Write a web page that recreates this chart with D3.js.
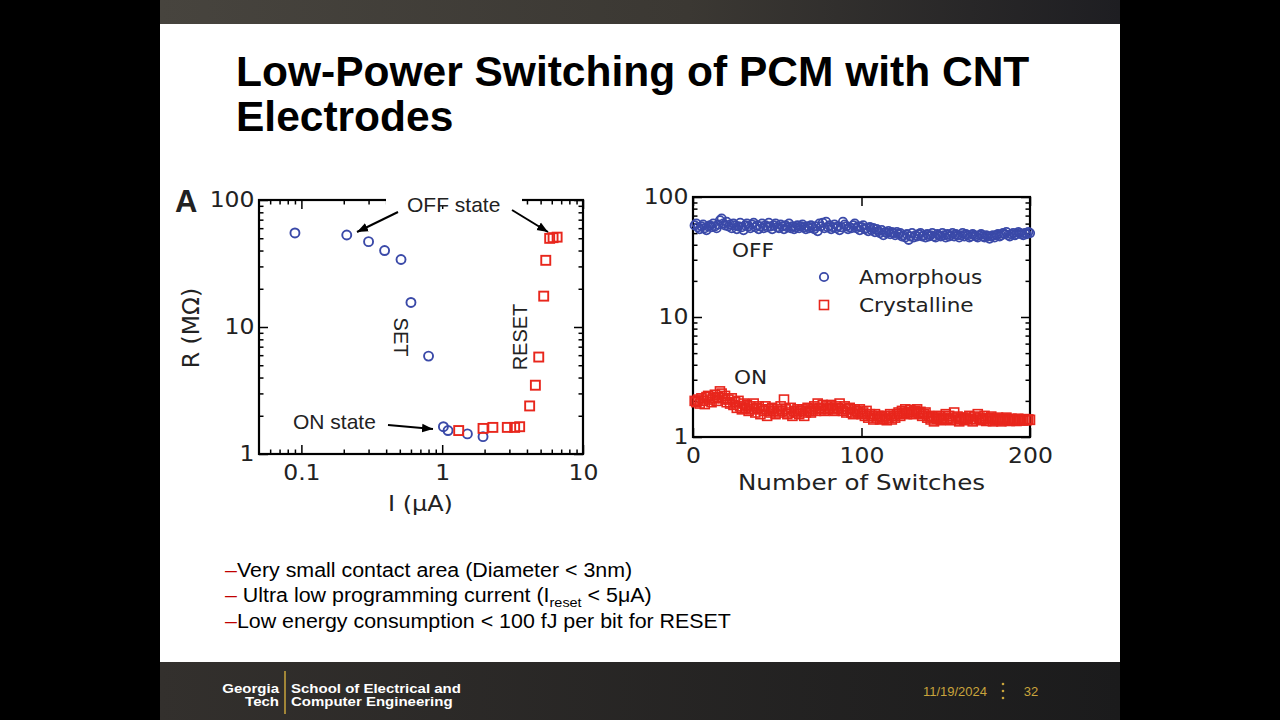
<!DOCTYPE html>
<html>
<head>
<meta charset="utf-8">
<script src="https://cdn.jsdelivr.net/npm/d3@7"></script>
<style>
  body { margin: 0; background: #000; }
</style>
</head>
<body>
<script>
// ---- left panel: R vs I (SET / RESET sweeps) ----
var setCurrent   = [0.09, 0.21, 0.30, 0.39, 0.51, 0.60, 0.80, 1.02, 1.10, 1.51, 1.95];
var setResist    = [55, 53, 47, 40, 34, 15.6, 5.9, 1.64, 1.53, 1.44, 1.37];
var resetCurrent = [1.31, 1.95, 2.29, 2.90, 3.27, 3.55, 4.18, 4.59, 4.85, 5.26, 5.44, 5.80, 6.13, 6.55];
var resetResist  = [1.53, 1.59, 1.62, 1.62, 1.62, 1.64, 2.39, 3.48, 5.8, 17.5, 33.5, 49.9, 50.5, 51];
var currentTicks = [0.1, 1, 10];
var currentMinor = [0.06, 0.07, 0.08, 0.09, 0.2, 0.3, 0.4, 0.5, 0.6, 0.7, 0.8, 0.9, 2, 3, 4, 5, 6, 7, 8, 9];
var resistTicks  = [1, 10, 100];
var resistMinor  = [2, 3, 4, 5, 6, 7, 8, 9, 20, 30, 40, 50, 60, 70, 80, 90];

// ---- right panel: endurance (OFF / ON resistance per switch) ----
var offResist = [
  58, 60, 56, 54, 57, 59, 55, 53, 57, 58, 56, 60, 57, 55, 59, 64, 66, 60, 58, 62,
  57, 59, 55, 60, 58, 54, 57, 61, 56, 53, 58, 60, 57, 55, 59, 61, 56, 58, 54, 57,
  60, 55, 58, 56, 61, 57, 54, 58, 60, 56, 55, 59, 57, 54, 58, 56, 60, 55, 57, 54,
  56, 58, 55, 57, 59, 56, 54, 57, 55, 58, 56, 54, 57, 52, 60, 57, 61, 55, 62, 56,
  58, 54, 56, 59, 55, 57, 53, 56, 62, 59, 57, 54, 56, 55, 58, 60, 55, 57, 53, 56,
  58, 54, 55, 52, 56, 53, 55, 51, 54, 52, 50, 53, 48, 51, 50, 52, 49, 51, 50, 48,
  51, 49, 50, 47, 48, 46, 49, 44, 47, 50, 46, 48, 47, 49, 50, 47, 48, 46, 49, 47,
  48, 50, 47, 46, 49, 48, 47, 50, 48, 46, 49, 47, 48, 50, 47, 49, 48, 46, 48, 50,
  47, 49, 48, 46, 47, 49, 48, 47, 46, 48, 49, 47, 46, 48, 47, 45, 47, 48, 46, 48,
  49, 47, 48, 50, 49, 51, 48, 47, 49, 50, 48, 49, 51, 50, 49, 48, 50, 49, 51, 50
];
var onResist = [
  2.0, 1.95, 2.05, 1.9, 2.1, 2.0, 1.88, 2.15, 2.2, 2.05, 1.95, 2.1, 2.25, 2.0, 2.15, 2.4, 2.3, 2.1, 2.2, 1.95,
  2.05, 1.9, 2.1, 1.85, 1.95, 1.75, 2.0, 1.8, 1.7, 1.9, 1.75, 1.85, 1.65, 1.8, 1.7, 1.9, 1.6, 1.75, 1.8, 1.55,
  1.7, 1.65, 1.8, 1.5, 1.7, 1.6, 1.75, 1.65, 1.55, 1.7, 1.6, 1.8, 1.65, 2.05, 1.7, 1.55, 1.6, 1.75, 1.5, 1.65,
  1.6, 1.7, 1.55, 1.65, 1.7, 1.5, 1.6, 1.75, 1.65, 1.6, 1.7, 1.8, 1.65, 1.9, 1.75, 1.7, 1.85, 1.65, 1.8, 1.7,
  1.75, 1.85, 1.7, 1.65, 1.8, 1.75, 1.9, 1.7, 1.65, 1.8, 1.6, 1.7, 1.75, 1.6, 1.55, 1.7, 1.65, 1.6, 1.7, 1.55,
  1.6, 1.5, 1.65, 1.45, 1.55, 1.5, 1.4, 1.55, 1.45, 1.5, 1.4, 1.48, 1.42, 1.5, 1.38, 1.45, 1.55, 1.4, 1.5, 1.45,
  1.55, 1.6, 1.5, 1.65, 1.58, 1.7, 1.55, 1.62, 1.68, 1.6, 1.55, 1.65, 1.7, 1.58, 1.62, 1.5, 1.55, 1.6, 1.45, 1.5,
  1.4, 1.48, 1.35, 1.45, 1.42, 1.5, 1.38, 1.45, 1.4, 1.55, 1.42, 1.5, 1.38, 1.45, 1.6, 1.4, 1.48, 1.35, 1.42, 1.45,
  1.38, 1.45, 1.4, 1.5, 1.42, 1.35, 1.48, 1.4, 1.55, 1.45, 1.38, 1.42, 1.5, 1.36, 1.44, 1.4, 1.48, 1.35, 1.42, 1.38,
  1.45, 1.4, 1.35, 1.42, 1.38, 1.45, 1.4, 1.36, 1.42, 1.38, 1.4, 1.36, 1.42, 1.38, 1.4, 1.37, 1.41, 1.38, 1.4, 1.39
];
var switchTicks = [0, 100, 200];
var legendNames = ["Amorphous", "Crystalline"];

var bullets = [
  ["Very small contact area (Diameter < 3nm)"],
  [" Ultra low programming current (I", "reset", " < 5μA)"],
  ["Low energy consumption < 100 fJ per bit for RESET"]
];

var blue = "#3a49a8", red = "#e8261c", ink = "#222";
var tickFont = "DejaVu Sans, Verdana, sans-serif";
var textFont = "Liberation Sans, Arial, sans-serif";

var svg = d3.select("body").append("svg")
    .attr("width", 1280)
    .attr("height", 720);

var defs = svg.append("defs");

// slide background pieces
var topGrad = defs.append("linearGradient").attr("id", "topGrad");
topGrad.append("stop").attr("offset", "0%").attr("stop-color", "#47443e");
topGrad.append("stop").attr("offset", "55%").attr("stop-color", "#3b3833");
topGrad.append("stop").attr("offset", "100%").attr("stop-color", "#1e1e22");

var footGrad = defs.append("linearGradient").attr("id", "footGrad");
footGrad.append("stop").attr("offset", "0%").attr("stop-color", "#33302d");
footGrad.append("stop").attr("offset", "100%").attr("stop-color", "#1b1b1c");

defs.append("marker")
    .attr("id", "arrow")
    .attr("viewBox", "0 0 10 10")
    .attr("refX", 10).attr("refY", 5)
    .attr("markerWidth", 11).attr("markerHeight", 11)
    .attr("markerUnits", "userSpaceOnUse")
    .attr("orient", "auto")
    .append("path")
    .attr("d", "M0,1 L10,5 L0,9 Z")
    .attr("fill", "#000");

svg.append("rect").attr("x", 160).attr("y", 0).attr("width", 960).attr("height", 24).attr("fill", "url(#topGrad)");
svg.append("rect").attr("x", 160).attr("y", 24).attr("width", 960).attr("height", 638).attr("fill", "#fff");
svg.append("rect").attr("x", 160).attr("y", 662).attr("width", 960).attr("height", 58).attr("fill", "url(#footGrad)");

// text placed at (x, y) and stretched sideways a bit, like the slide's artwork
function label(g, x, y, str, size, sx, family) {
    return g.append("text")
        .attr("transform", "translate(" + x + "," + y + ") scale(" + sx + ",1)")
        .attr("font-family", family || tickFont)
        .attr("font-size", size)
        .attr("fill", ink)
        .text(str);
}

// title
var title = svg.append("text")
    .attr("font-family", textFont)
    .attr("font-weight", "bold")
    .attr("font-size", 42.5)
    .attr("fill", "#000");
title.append("tspan").attr("x", 236).attr("y", 86).text("Low-Power Switching of PCM with CNT");
title.append("tspan").attr("x", 236).attr("y", 131).text("Electrodes");

// ---------- boxed frame with inward ticks on all four sides ----------
function drawFrame(g, x, y, xMajor, xMinor, yMajor, yMinor) {
    var x0 = x.range()[0], x1 = x.range()[1];
    var y0 = y.range()[0], y1 = y.range()[1];
    var fmt = d3.format("~g");

    var axes = [
        g.append("g").attr("transform", "translate(0," + y0 + ")")
            .call(d3.axisBottom(x).tickValues(xMajor).tickSize(-9).tickPadding(11).tickFormat(fmt)),
        g.append("g").attr("transform", "translate(0," + y1 + ")")
            .call(d3.axisTop(x).tickValues(xMajor).tickSize(-9).tickFormat("")),
        g.append("g").attr("transform", "translate(" + x0 + ",0)")
            .call(d3.axisLeft(y).tickValues(yMajor).tickSize(-9).tickPadding(4).tickFormat(fmt)),
        g.append("g").attr("transform", "translate(" + x1 + ",0)")
            .call(d3.axisRight(y).tickValues(yMajor).tickSize(-9).tickFormat(""))
    ];
    if (xMinor.length) {
        axes.push(g.append("g").attr("transform", "translate(0," + y0 + ")")
            .call(d3.axisBottom(x).tickValues(xMinor).tickSize(-4.5).tickFormat("")));
        axes.push(g.append("g").attr("transform", "translate(0," + y1 + ")")
            .call(d3.axisTop(x).tickValues(xMinor).tickSize(-4.5).tickFormat("")));
    }
    axes.push(g.append("g").attr("transform", "translate(" + x0 + ",0)")
        .call(d3.axisLeft(y).tickValues(yMinor).tickSize(-4.5).tickFormat("")));
    axes.push(g.append("g").attr("transform", "translate(" + x1 + ",0)")
        .call(d3.axisRight(y).tickValues(yMinor).tickSize(-4.5).tickFormat("")));

    axes.forEach(function(a) {
        a.select(".domain").remove();
        a.attr("font-family", tickFont).attr("font-size", 21);
        a.selectAll("line").attr("stroke", "#000").attr("stroke-width", 1.5);
        a.selectAll("text").attr("fill", ink).attr("transform", "scale(1.12,1)");
    });

    g.append("rect")
        .attr("x", x0).attr("y", y1)
        .attr("width", x1 - x0).attr("height", y0 - y1)
        .attr("fill", "none")
        .attr("stroke", "#000")
        .attr("stroke-width", 2.2);
}

// ================= LEFT PANEL =================
var xL = d3.scaleLog().domain([0.05, 10]).range([259, 583]);
var yL = d3.scaleLog().domain([1, 100]).range([454, 200]);
var left = svg.append("g");

drawFrame(left, xL, yL, currentTicks, currentMinor, resistTicks, resistMinor);

// gap in the top frame behind "OFF state"
left.append("rect").attr("x", 386).attr("y", 195).attr("width", 136).attr("height", 10).attr("fill", "#fff");

left.selectAll(".setPt")
    .data(setCurrent)
    .enter().append("circle")
    .attr("class", "setPt")
    .attr("cx", function(d) { return xL(d); })
    .attr("cy", function(d, i) { return yL(setResist[i]); })
    .attr("r", 4.5)
    .attr("fill", "none")
    .attr("stroke", blue)
    .attr("stroke-width", 1.9);

left.selectAll(".resetPt")
    .data(resetCurrent)
    .enter().append("rect")
    .attr("class", "resetPt")
    .attr("x", function(d) { return xL(d) - 4.5; })
    .attr("y", function(d, i) { return yL(resetResist[i]) - 4.5; })
    .attr("width", 9)
    .attr("height", 9)
    .attr("fill", "none")
    .attr("stroke", red)
    .attr("stroke-width", 1.9);

// annotations
label(left, 407, 212, "OFF state", 20, 1.05, textFont);
label(left, 293, 429, "ON state", 20, 1.05, textFont);
left.append("text").attr("transform", "translate(394,337) rotate(90)").attr("text-anchor", "middle")
    .attr("font-family", textFont).attr("font-size", 20).attr("fill", ink).text("SET");
left.append("text").attr("transform", "translate(527,337) rotate(-90)").attr("text-anchor", "middle")
    .attr("font-family", textFont).attr("font-size", 20).attr("fill", ink).text("RESET");

var arrows = [[398, 212, 357, 232], [512, 210, 548, 232], [388, 425, 433, 429]];
left.selectAll(".arrow")
    .data(arrows)
    .enter().append("line")
    .attr("x1", function(d) { return d[0]; })
    .attr("y1", function(d) { return d[1]; })
    .attr("x2", function(d) { return d[2]; })
    .attr("y2", function(d) { return d[3]; })
    .attr("stroke", "#000")
    .attr("stroke-width", 2)
    .attr("marker-end", "url(#arrow)");

left.append("text").attr("x", 175).attr("y", 212)
    .attr("font-family", textFont).attr("font-weight", "bold").attr("font-size", 31).attr("fill", ink).text("A");
left.append("text").attr("transform", "translate(199,328) rotate(-90)").attr("text-anchor", "middle")
    .attr("font-family", tickFont).attr("font-size", 23.5).attr("fill", ink).text("R (MΩ)");
label(left, 388, 511, "I (μA)", 21, 1.14);

// ================= RIGHT PANEL =================
var xR = d3.scaleLinear().domain([0, 200]).range([693, 1030]);
var yR = d3.scaleLog().domain([1, 100]).range([437, 197]);
var right = svg.append("g");

drawFrame(right, xR, yR, switchTicks, [], resistTicks, resistMinor);

right.selectAll(".offPt")
    .data(offResist)
    .enter().append("circle")
    .attr("class", "offPt")
    .attr("cx", function(d, i) { return xR(i + 1); })
    .attr("cy", function(d) { return yR(d); })
    .attr("r", 4.2)
    .attr("fill", "none")
    .attr("stroke", blue)
    .attr("stroke-width", 1.8);

right.selectAll(".onPt")
    .data(onResist)
    .enter().append("rect")
    .attr("class", "onPt")
    .attr("x", function(d, i) { return xR(i + 1) - 4.5; })
    .attr("y", function(d) { return yR(d) - 4.5; })
    .attr("width", 9)
    .attr("height", 9)
    .attr("fill", "none")
    .attr("stroke", red)
    .attr("stroke-width", 1.6);

label(right, 732, 257, "OFF", 19, 1.14);
label(right, 734, 384, "ON", 19, 1.14);
label(right, 738, 490, "Number of Switches", 21, 1.17);

// legend
var legend = right.selectAll(".legend")
    .data(legendNames)
    .enter().append("g")
    .attr("class", "legend")
    .attr("transform", function(d, i) { return "translate(824," + (277 + i * 28) + ")"; });

legend.filter(function(d, i) { return i === 0; }).append("circle")
    .attr("r", 4.2).attr("fill", "none").attr("stroke", blue).attr("stroke-width", 1.8);
legend.filter(function(d, i) { return i === 1; }).append("rect")
    .attr("x", -4.5).attr("y", -4.5).attr("width", 9).attr("height", 9)
    .attr("fill", "none").attr("stroke", red).attr("stroke-width", 1.6);
legend.append("text")
    .attr("transform", "translate(35,7) scale(1.08,1)")
    .attr("font-family", tickFont).attr("font-size", 20).attr("fill", ink)
    .text(function(d) { return d; });

// ================= bullets =================
var bulletBox = svg.append("g").attr("transform", "translate(225,0) scale(1.07,1)");
var lines = bulletBox.selectAll(".bullet")
    .data(bullets)
    .enter().append("text")
    .attr("class", "bullet")
    .attr("x", 0)
    .attr("y", function(d, i) { return 577 + i * 25.5; })
    .attr("font-family", textFont)
    .attr("font-size", 20)
    .attr("fill", "#000");

lines.append("tspan").attr("fill", "#c00000").text("–");
lines.each(function(d) {
    var t = d3.select(this);
    d.forEach(function(part, k) {
        var sp = t.append("tspan").text(part);
        if (k === 1) sp.attr("font-size", 13.5).attr("dy", 5);
        if (k === 2) sp.attr("dy", -5);
    });
});

// ================= footer =================
var gold = "#c9a43c";
var foot = svg.append("g").attr("font-family", textFont).attr("font-weight", "bold").attr("font-size", 12.5).attr("fill", "#fff");
foot.append("text").attr("transform", "translate(279,693) scale(1.2,1)").attr("text-anchor", "end").text("Georgia");
foot.append("text").attr("transform", "translate(279,706) scale(1.2,1)").attr("text-anchor", "end").text("Tech");
foot.append("text").attr("transform", "translate(291,693) scale(1.2,1)").text("School of Electrical and");
foot.append("text").attr("transform", "translate(291,706) scale(1.2,1)").text("Computer Engineering");
svg.append("line").attr("x1", 285).attr("x2", 285).attr("y1", 671).attr("y2", 714)
    .attr("stroke", gold).attr("stroke-width", 1.5);

svg.append("text").attr("x", 955).attr("y", 696).attr("text-anchor", "middle")
    .attr("font-family", textFont).attr("font-size", 13).attr("fill", gold).text("11/19/2024");
svg.append("text").attr("x", 1031).attr("y", 696).attr("text-anchor", "middle")
    .attr("font-family", textFont).attr("font-size", 13).attr("fill", gold).text("32");
svg.selectAll(".sepDot")
    .data([684, 691, 698])
    .enter().append("circle")
    .attr("cx", 1003).attr("cy", function(d) { return d; })
    .attr("r", 1.3).attr("fill", gold);
</script>
</body>
</html>
